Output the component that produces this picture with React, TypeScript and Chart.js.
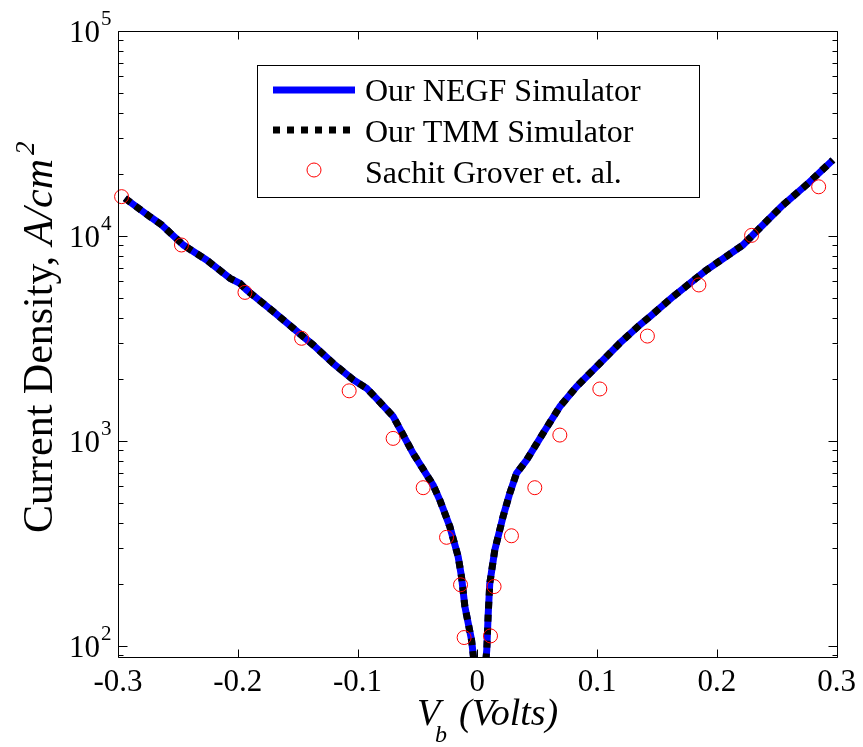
import React, { useEffect, useRef } from "react";
import { Chart, registerables } from "chart.js";

Chart.register(...registerables);

// Bias voltage (V) along the simulated curves; the null current marks the break at V = 0
const curveVolts: number[] = [
  -0.2942, -0.2733, -0.2635, -0.2455, -0.226, -0.2065, -0.1982, -0.1926, -0.1704, -0.1537,
  -0.137, -0.1203, -0.1036, -0.0925, -0.0841, -0.0703, -0.0536, -0.0369, -0.0313, -0.0229,
  -0.016, -0.0132, -0.0104, -0.0048, -0.0029,
  0.002,
  0.0071, 0.0079, 0.009, 0.0104, 0.0146, 0.0215, 0.0271, 0.0327, 0.0411, 0.0549,
  0.0688, 0.0828, 0.1022, 0.1189, 0.1356, 0.144, 0.1634, 0.1913, 0.2218, 0.2357,
  0.2552, 0.2747, 0.2969,
];

// NEGF current density (A/cm^2)
const negfCurrent: (number | null)[] = [
  15280, 12420, 11320, 9040, 7640, 6220, 5880, 5450, 4280, 3550,
  2940, 2390, 1990, 1810, 1610, 1320, 871, 610, 515, 382,
  273, 218, 156, 107, 85,
  null,
  85, 95.5, 139, 202, 294, 428, 556, 695, 807, 1091,
  1469, 1840, 2390, 3000, 3680, 4040, 5060, 6820, 9040, 10920,
  14160, 17740, 23500,
];

// TMM current density (A/cm^2) – overlaps the NEGF result
const tmmCurrent: (number | null)[] = [
  15280, 12420, 11320, 9040, 7640, 6220, 5880, 5450, 4280, 3550,
  2940, 2390, 1990, 1810, 1610, 1320, 871, 610, 515, 382,
  273, 218, 156, 107, 85,
  null,
  85, 95.5, 139, 202, 294, 428, 556, 695, 807, 1091,
  1469, 1840, 2390, 3000, 3680, 4040, 5060, 6820, 9040, 10920,
  14160, 17740, 23500,
];

// Sachit Grover et. al. reference points
const groverVolts: number[] = [
  -0.297, -0.247, -0.194, -0.1467, -0.107, -0.0703, -0.0452, -0.0257, -0.014, -0.011,
  0.011, 0.014, 0.0285, 0.048, 0.0689, 0.1023, 0.142, 0.185, 0.229, 0.285,
];
const groverCurrent: number[] = [
  15560, 9040, 5310, 3170, 1757, 1030, 592, 339, 199, 110,
  112, 195, 345, 592, 1069, 1794, 3250, 5770, 10070, 17380,
];

const xTicks: number[] = [-0.3, -0.2, -0.1, 0, 0.1, 0.2, 0.3];
const xTickLabels: string[] = ["-0.3", "-0.2", "-0.1", "0", "0.1", "0.2", "0.3"];
const yTickExponents: number[] = [2, 3, 4, 5];
const legendLabels: string[] = ["Our NEGF Simulator", "Our TMM Simulator", "Sachit Grover et. al."];

const FONT = '"Liberation Serif", "Times New Roman", serif';

const overlayPlugin = {
  id: "overlay",
  afterDraw(chart: any) {
    const ctx: CanvasRenderingContext2D = chart.ctx;
    const { left, right, top, bottom } = chart.chartArea;
    const xs = chart.scales.x;
    const ys = chart.scales.y;
    const L = Math.round(left) + 0.5;
    const R = Math.round(right) + 0.5;
    const T = Math.round(top) + 0.5;
    const B = Math.round(bottom) + 0.5;
    ctx.save();
    ctx.strokeStyle = "#000";
    ctx.lineWidth = 1;
    ctx.beginPath();
    ctx.rect(L, T, R - L, B - T);
    // x ticks (inward, bottom and top)
    xTicks.forEach((v) => {
      const px = Math.round(xs.getPixelForValue(v)) + 0.5;
      ctx.moveTo(px, B);
      ctx.lineTo(px, B - 8);
      ctx.moveTo(px, T);
      ctx.lineTo(px, T + 8);
    });
    // y ticks (log, majors + minors, inward, left and right)
    for (let e = 1; e <= 5; e++) {
      for (let k = 1; k <= 9; k++) {
        const v = k * Math.pow(10, e);
        if (v < ys.min - 1e-9 || v > ys.max + 1e-6) continue;
        const len = k === 1 ? 9 : 5;
        const py = Math.round(ys.getPixelForValue(v)) + 0.5;
        ctx.moveTo(L, py);
        ctx.lineTo(L + len, py);
        ctx.moveTo(R, py);
        ctx.lineTo(R - len, py);
      }
    }
    ctx.stroke();

    // y tick labels 10^n
    ctx.fillStyle = "#000";
    ctx.textBaseline = "alphabetic";
    yTickExponents.forEach((e) => {
      const py = ys.getPixelForValue(Math.pow(10, e));
      ctx.font = `31px ${FONT}`;
      ctx.textAlign = "right";
      ctx.fillText("10", 100, py + 11);
      ctx.font = `21px ${FONT}`;
      ctx.textAlign = "left";
      ctx.fillText(String(e), 101, py - 6);
    });

    // x title: V_b (Volts)
    ctx.textAlign = "left";
    ctx.font = `italic 38px ${FONT}`;
    ctx.fillText("V", 417, 725);
    ctx.font = `italic 24px ${FONT}`;
    ctx.fillText("b", 435, 742);
    ctx.font = `italic 38px ${FONT}`;
    ctx.fillText("(Volts)", 459, 725);

    // y title
    ctx.save();
    ctx.translate(52, 533);
    ctx.rotate(-Math.PI / 2);
    ctx.font = `42px ${FONT}`;
    const part1 = "Current Density, ";
    ctx.fillText(part1, 0, 0);
    let w = ctx.measureText(part1).width;
    ctx.font = `italic 42px ${FONT}`;
    ctx.fillText("A/cm", w, 0);
    w += ctx.measureText("A/cm").width;
    ctx.font = `italic 27px ${FONT}`;
    ctx.fillText("2", w + 4, -18);
    ctx.restore();

    // legend
    ctx.fillStyle = "#fff";
    ctx.fillRect(257.5, 65.5, 442, 132);
    ctx.strokeStyle = "#000";
    ctx.lineWidth = 1;
    ctx.strokeRect(257.5, 65.5, 442, 132);
    ctx.lineCap = "butt";
    ctx.lineWidth = 7;
    ctx.strokeStyle = "#0000ff";
    ctx.beginPath();
    ctx.moveTo(273, 90);
    ctx.lineTo(355, 90);
    ctx.stroke();
    ctx.strokeStyle = "#000";
    ctx.setLineDash([7, 7]);
    ctx.beginPath();
    ctx.moveTo(273, 130);
    ctx.lineTo(357, 130);
    ctx.stroke();
    ctx.setLineDash([]);
    ctx.lineWidth = 1;
    ctx.strokeStyle = "#ff0000";
    ctx.beginPath();
    ctx.arc(314, 170, 7, 0, Math.PI * 2);
    ctx.stroke();
    ctx.fillStyle = "#000";
    ctx.font = `32px ${FONT}`;
    ctx.fillText(legendLabels[0], 365, 101);
    ctx.fillText(legendLabels[1], 365, 142);
    ctx.fillText(legendLabels[2], 365, 183);
    ctx.restore();
  },
};

export default function App() {
  const canvasRef = useRef<HTMLCanvasElement | null>(null);

  useEffect(() => {
    if (!canvasRef.current) return;
    const curve = (vals: (number | null)[]) => curveVolts.map((x, i) => ({ x, y: vals[i] }));
    const grover = groverVolts.map((x, i) => ({ x, y: groverCurrent[i] }));

    const chart = new Chart(canvasRef.current, {
      type: "line",
      data: {
        datasets: [
          {
            label: legendLabels[0],
            data: curve(negfCurrent) as any,
            borderColor: "#0000ff",
            borderWidth: 7,
            pointRadius: 0,
            fill: false,
            tension: 0,
            borderCapStyle: "butt",
            borderJoinStyle: "round",
            clip: 0 as any,
            order: 3,
          },
          {
            label: legendLabels[1],
            data: curve(tmmCurrent) as any,
            borderColor: "#000000",
            borderWidth: 7,
            borderDash: [7, 6],
            pointRadius: 0,
            fill: false,
            tension: 0,
            borderCapStyle: "butt",
            clip: 0 as any,
            order: 2,
          },
          {
            label: legendLabels[2],
            data: grover as any,
            showLine: false,
            pointRadius: 7,
            pointBorderColor: "#ff0000",
            pointBackgroundColor: "rgba(0,0,0,0)",
            pointBorderWidth: 1,
            clip: false as any,
            order: 1,
          },
        ],
      },
      options: {
        responsive: false,
        animation: false,
        devicePixelRatio: 1,
        layout: { padding: { left: 0, top: 31, right: 26, bottom: 0 } },
        plugins: { legend: { display: false }, tooltip: { enabled: false } },
        events: [],
        scales: {
          x: {
            type: "linear",
            min: -0.3,
            max: 0.3,
            border: { display: false },
            grid: { display: false, drawTicks: false },
            afterBuildTicks: (scale: any) => {
              scale.ticks = xTicks.map((v) => ({ value: v }));
            },
            afterFit: (scale: any) => {
              scale.height = 90;
            },
            ticks: {
              autoSkip: false,
              maxRotation: 0,
              padding: 7,
              color: "#000",
              font: { family: FONT, size: 31 },
              callback: (_v: any, i: number) => xTickLabels[i],
            },
          },
          y: {
            type: "logarithmic",
            min: 88.4,
            max: 100000,
            border: { display: false },
            grid: { display: false, drawTicks: false },
            ticks: { display: false },
            afterFit: (scale: any) => {
              scale.width = 118;
            },
          },
        },
      },
      plugins: [overlayPlugin],
    });
    return () => chart.destroy();
  }, []);

  return (
    <div style={{ position: "fixed", left: 0, top: 0, width: 863, height: 747, background: "#fff" }}>
      <canvas ref={canvasRef} width={863} height={747} style={{ display: "block" }} />
    </div>
  );
}
